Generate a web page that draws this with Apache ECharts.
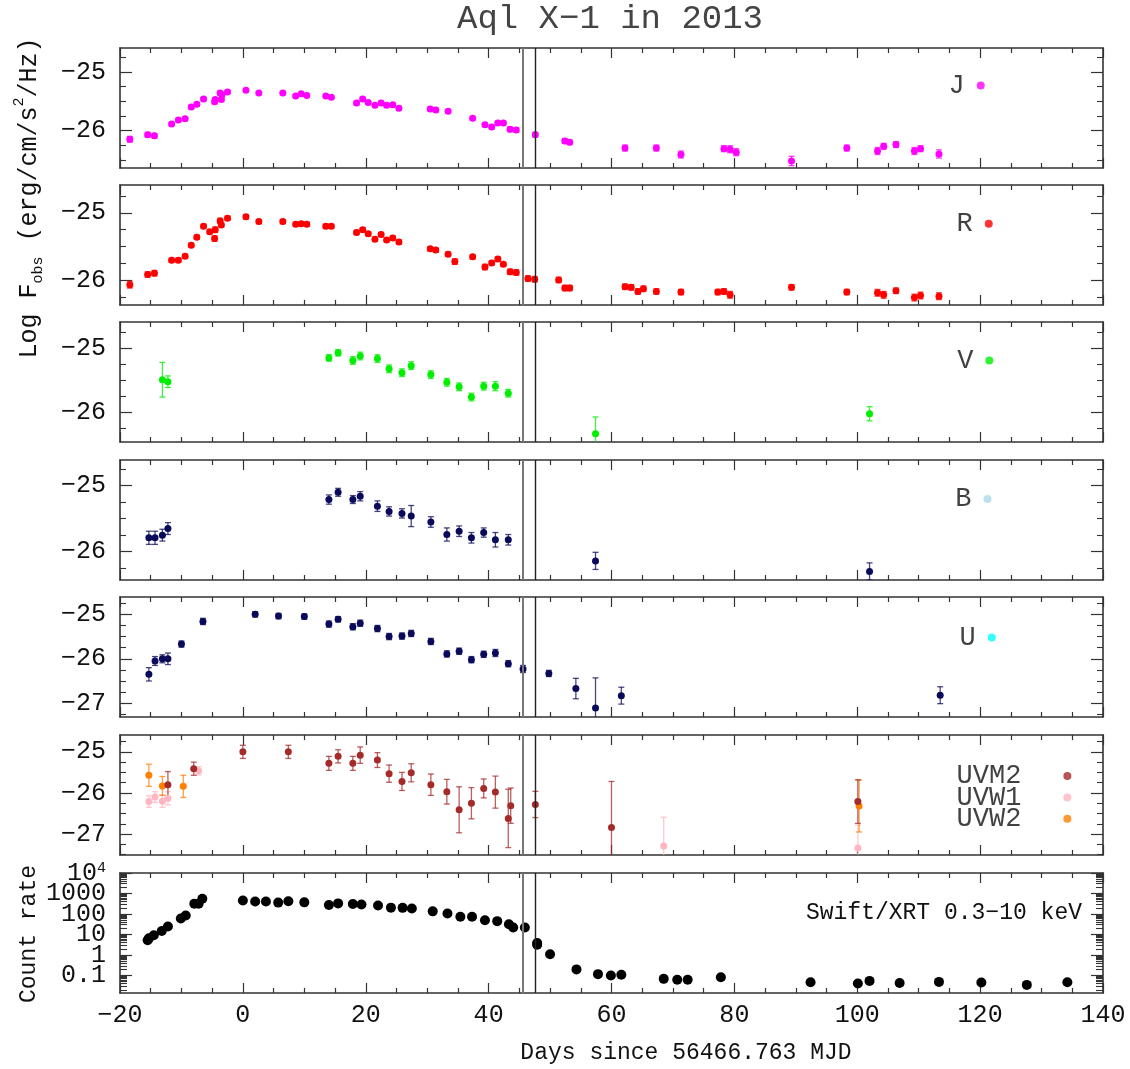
<!DOCTYPE html>
<html><head><meta charset="utf-8">
<script src="https://cdn.jsdelivr.net/npm/echarts@6/dist/echarts.min.js"></script>
<style>html,body{margin:0;padding:0;background:#fff}#c{width:1130px;height:1069px}</style>
</head><body><div id="c"></div><script>
// ---------------- DATA ----------------
const outburstDays = [45.6, 47.6];

const jDay  = [-18.4,-15.5,-14.4,-11.6,-10.5,-9.4,-8.4,-7.5,-6.4,-4.6,-4.5,-3.7,-3.4,-3.5,-2.5,0.5,2.6,6.5,8.6,9.5,10.4,13.5,14.4,18.5,19.5,20.4,21.5,22.5,23.4,24.4,25.4,30.5,31.4,33.4,37.4,39.4,40.5,41.5,42.4,43.5,44.5,47.6,52.4,53.2,62.2,67.3,71.3,78.3,79.3,80.3,89.3,98.3,103.3,104.3,106.3,109.3,110.3,113.3];
const jFlux = [-26.15,-26.07,-26.09,-25.89,-25.82,-25.80,-25.60,-25.55,-25.46,-25.51,-25.47,-25.36,-25.39,-25.47,-25.34,-25.31,-25.36,-25.36,-25.41,-25.37,-25.40,-25.41,-25.43,-25.53,-25.46,-25.52,-25.57,-25.53,-25.57,-25.56,-25.62,-25.63,-25.65,-25.67,-25.79,-25.90,-25.94,-25.87,-25.87,-25.98,-25.99,-26.07,-26.18,-26.20,-26.30,-26.30,-26.41,-26.31,-26.32,-26.37,-26.52,-26.30,-26.35,-26.27,-26.24,-26.35,-26.31,-26.40];
const jErr  = [0.05,0.04,0.04,0.03,0.03,0.03,0.03,0.03,0.03,0.03,0.03,0.03,0.03,0.03,0.03,0.02,0.02,0.02,0.02,0.02,0.02,0.02,0.02,0.03,0.03,0.03,0.03,0.03,0.03,0.03,0.03,0.03,0.03,0.03,0.03,0.03,0.03,0.03,0.03,0.04,0.04,0.04,0.04,0.04,0.05,0.05,0.06,0.05,0.06,0.06,0.08,0.05,0.06,0.05,0.05,0.06,0.05,0.07];

const rDay  = [-18.4,-15.5,-14.4,-11.6,-10.5,-9.4,-8.4,-7.5,-6.4,-5.4,-4.6,-4.5,-3.7,-3.5,-2.5,0.5,2.6,6.5,8.6,9.5,10.4,13.5,14.4,18.5,19.5,20.4,21.5,22.5,23.4,24.4,25.4,30.5,31.4,33.4,34.5,37.4,39.4,40.5,41.5,42.4,43.5,44.5,46.4,47.5,51.4,52.4,53.2,62.2,63.2,64.3,65.2,67.3,71.3,77.3,78.3,79.3,89.3,98.3,103.3,104.3,106.3,109.3,110.3,113.3];
const rFlux = [-26.06,-25.91,-25.89,-25.70,-25.70,-25.64,-25.48,-25.36,-25.20,-25.28,-25.38,-25.25,-25.12,-25.18,-25.08,-25.06,-25.13,-25.13,-25.17,-25.16,-25.17,-25.20,-25.20,-25.29,-25.25,-25.31,-25.39,-25.32,-25.40,-25.37,-25.43,-25.53,-25.55,-25.61,-25.72,-25.65,-25.80,-25.74,-25.68,-25.76,-25.87,-25.88,-25.97,-25.98,-25.99,-26.11,-26.11,-26.09,-26.10,-26.16,-26.12,-26.16,-26.17,-26.17,-26.16,-26.21,-26.10,-26.17,-26.18,-26.21,-26.15,-26.25,-26.22,-26.23];
const rErr  = [0.05,0.04,0.04,0.03,0.03,0.03,0.03,0.03,0.03,0.03,0.04,0.04,0.04,0.03,0.03,0.03,0.03,0.03,0.03,0.03,0.03,0.03,0.03,0.03,0.03,0.03,0.03,0.03,0.03,0.03,0.03,0.03,0.03,0.03,0.04,0.03,0.04,0.03,0.03,0.03,0.04,0.04,0.04,0.04,0.04,0.04,0.04,0.04,0.04,0.04,0.04,0.04,0.04,0.04,0.04,0.05,0.04,0.04,0.05,0.05,0.04,0.05,0.05,0.05];

const vDay  = [-13.1,-12.2,14.0,15.5,17.9,19.1,21.9,23.8,25.9,27.4,30.6,33.2,35.2,37.2,39.2,41.1,43.2,57.4,102.0];
const vFlux = [-25.49,-25.52,-25.15,-25.07,-25.19,-25.12,-25.16,-25.32,-25.38,-25.27,-25.41,-25.53,-25.60,-25.76,-25.59,-25.59,-25.70,-26.33,-26.02];
const vErr  = [0.27,0.09,0.05,0.05,0.06,0.06,0.06,0.06,0.06,0.06,0.06,0.06,0.06,0.06,0.06,0.07,0.06,0.26,0.11];

const bDay  = [-15.3,-14.3,-13.1,-12.2,14.0,15.5,17.9,19.1,21.9,23.8,25.9,27.4,30.6,33.2,35.2,37.2,39.2,41.1,43.2,57.4,102.0];
const bFlux = [-25.79,-25.79,-25.75,-25.65,-25.21,-25.10,-25.21,-25.16,-25.31,-25.39,-25.42,-25.46,-25.55,-25.74,-25.69,-25.79,-25.71,-25.82,-25.82,-26.14,-26.30];
const bErr  = [0.10,0.10,0.09,0.09,0.07,0.06,0.06,0.07,0.08,0.07,0.07,0.16,0.08,0.10,0.08,0.08,0.07,0.11,0.08,0.13,0.13];

const uDay  = [-15.3,-14.3,-13.1,-12.2,-10.0,-6.5,2.0,5.8,10.0,14.0,15.5,17.9,19.1,21.9,23.8,25.9,27.4,30.6,33.2,35.2,37.2,39.2,41.1,43.2,45.6,49.8,54.2,57.4,61.6,113.5];
const uFlux = [-26.35,-26.05,-26.00,-26.00,-25.67,-25.16,-25.00,-25.04,-25.05,-25.22,-25.11,-25.28,-25.20,-25.32,-25.50,-25.49,-25.43,-25.61,-25.89,-25.83,-26.02,-25.90,-25.87,-26.11,-26.23,-26.33,-26.67,-27.11,-26.83,-26.82];
const uErr  = [0.15,0.10,0.09,0.13,0.07,0.07,0.06,0.06,0.06,0.07,0.06,0.07,0.07,0.07,0.07,0.07,0.07,0.07,0.07,0.07,0.07,0.07,0.08,0.07,0.08,0.07,0.23,0.68,0.19,0.19];

const m2Day  = [-12.2,-8.0,0.0,7.4,14.0,15.5,17.9,19.1,21.9,23.8,25.9,27.4,30.6,33.2,35.2,37.2,39.2,41.1,43.2,43.6,47.6,60.0,100.1];
const m2Flux = [-25.80,-25.41,-25.00,-25.00,-25.28,-25.11,-25.28,-25.08,-25.20,-25.53,-25.72,-25.51,-25.80,-25.97,-26.41,-26.25,-25.89,-25.98,-26.62,-26.31,-26.28,-26.84,-26.21];
const m2Err  = [0.32,0.16,0.16,0.16,0.17,0.16,0.17,0.20,0.18,0.21,0.22,0.22,0.26,0.30,0.56,0.38,0.23,0.39,0.71,0.43,0.32,1.12,0.53];

const w1Day  = [-15.3,-14.3,-13.1,-12.2,-7.2,68.5,100.1];
const w1Flux = [-26.21,-26.10,-26.20,-26.13,-25.46,-27.29,-27.34];
const w1Err  = [0.14,0.13,0.15,0.16,0.10,0.70,0.56];

const w2Day  = [-15.3,-13.1,-9.7,100.3];
const w2Flux = [-25.57,-25.83,-25.84,-26.32];
const w2Err  = [0.27,0.23,0.27,0.63];

const xrtDay  = [-15.5,-15.3,-14.5,-13.2,-12.2,-10.1,-9.3,-7.9,-7.2,-6.6,0.0,2.0,3.75,5.75,7.4,10.0,14.0,15.5,17.9,19.3,22.0,24.1,26.0,27.5,30.9,33.3,35.4,37.3,39.4,41.4,43.3,44.0,45.9,47.9,47.9,50.0,54.3,57.8,59.9,61.6,68.5,70.7,72.4,77.8,92.4,100.1,102.0,106.9,113.3,120.2,127.6,134.2];
const xrtRate = [5.3,6.5,9.3,15,24.5,61,85,320,320,550,460,410,410,360,420,370,275,330,310,290,260,205,200,184,135,107,74,74,50,45,32,22,22,3.9,3.2,1.1,0.20,0.117,0.10,0.11,0.069,0.063,0.063,0.083,0.047,0.041,0.055,0.043,0.049,0.046,0.035,0.047];

// band key markers
const bandNames  = ['J','R','V','B','U'];
const bandKeyDay = [120.1,121.4,121.5,121.2,121.9];
const bandKeyFlux= [-25.23,-25.16,-25.19,-25.20,-25.52];
const uvNames    = ['UVM2','UVW1','UVW2'];
const uvKeyDay   = [134.2,134.2,134.2];
const uvKeyFlux  = [-25.59,-26.11,-26.63];

const fluxTickLabels = [-27,-26,-25];
const rateTickLabels = [0.1,1,10,100,1000,10000];
const xTitle = 'Days since 56466.763 MJD';

// ---------------- STYLE / LAYOUT ----------------
const FONT = 'Liberation Mono';
const AX = '#333';
const tops = [48,185,322,460,597,735,873];
const H = 120, LEFT = 120, W = 983;
const yRanges = [[-26.64,-24.59],[-26.36,-24.59],[-26.46,-24.59],[-26.43,-24.61],[-27.31,-24.61],[-27.51,-24.59],[0.0141,10000]];

const C = {J:'#ff00ff',R:'#ff0000',V:'#00ee00',NAVY:'#0a0a5a',M2:'#a52a2a',W1:'#ffb6c1',W2:'#ff7f00'};
const keyColors = ['#ff00ff','#ff0000','#00ee00','#add8e6','#00ffff'];
const uvColors = [C.M2, C.W1, C.W2];

const minus = v => (v < 0 ? '\u2212' : '') + Math.abs(v);
const rateFmt = v => v >= 9999 ? '{b|10}{s|4}' : String(v);
const rateRich = {b:{fontFamily:FONT,fontSize:25,color:'#111',verticalAlign:'bottom'}, s:{fontFamily:FONT,fontSize:15,color:'#111',verticalAlign:'top'}};

function quarterTicks(r){
  const out=[];
  for (let v=Math.ceil(r[0]*4)/4; v<=r[1]+1e-9; v+=0.25){
    const q=Math.round(v*100)/100;
    if (Math.abs(q-Math.round(q))>1e-6) out.push(q);
  }
  return out;
}
function logMinor(r){
  const out=[];
  for (let k=-2;k<=3;k++) for (let m=2;m<=9;m++){ const v=m*Math.pow(10,k); if(v>r[0]&&v<r[1]) out.push(v);}
  return out;
}

const grid=[], xAxis=[], yAxis=[], series=[];
tops.forEach((t,i)=>{
  grid.push({left:LEFT, top:t, width:W, height:H, show:false});
  const last = i===tops.length-1;
  ['bottom','top'].forEach(pos=>{
    xAxis.push({type:'value', gridIndex:i, min:-20, max:140, interval:20, position:pos,
      axisLine:{show:true, onZero:false, lineStyle:{color:AX, width:1.6}},
      axisTick:{show:true, inside:true, length:10, lineStyle:{color:AX, width:1.2}},
      minorTick:{show:true, splitNumber:4, length:5, lineStyle:{color:AX, width:1.2}},
      splitLine:{show:false}, minorSplitLine:{show:false},
      axisLabel:{show: last && pos==='bottom', margin:10, color:'#111', fontFamily:FONT, fontSize:25, formatter:minus}
    });
  });
  const r = yRanges[i];
  const isLog = i===6;
  const majors = isLog ? rateTickLabels : fluxTickLabels.filter(v=>v>r[0]&&v<r[1]);
  const labelsA = isLog ? rateTickLabels.filter((v,k)=>k%2===0) : majors;
  const minors = isLog ? logMinor(r) : quarterTicks(r);
  ['left','right'].forEach(pos=>{
    const base = {type: isLog?'log':'value', logBase:10, gridIndex:i, min:r[0], max:r[1], position:pos, splitLine:{show:false}};
    yAxis.push(Object.assign({}, base, {
      axisLine:{show:true, onZero:false, lineStyle:{color:AX, width:1.6}},
      axisTick:{show:true, inside:true, length:12, customValues:majors, lineStyle:{color:AX, width:1.2}},
      axisLabel:{show: pos==='left', customValues:labelsA, showMinLabel:true, showMaxLabel:true,
        margin:14, color:'#111', fontFamily:FONT, fontSize:25,
        formatter: isLog ? rateFmt : minus, rich: rateRich}
    }));
    yAxis.push(Object.assign({}, base, {
      axisLine:{show:false, onZero:false},
      axisTick:{show:true, inside:true, length: isLog?7:6, customValues:minors, lineStyle:{color:AX, width:1.1}},
      axisLabel:{show:false}
    }));
  });
});
// second label set for the log panel (alternate decades, so labels never collide)
yAxis.push({type:'log', logBase:10, gridIndex:6, min:yRanges[6][0], max:yRanges[6][1], position:'left', splitLine:{show:false},
  axisLine:{show:false, onZero:false}, axisTick:{show:false},
  axisLabel:{show:true, customValues:rateTickLabels.filter((v,k)=>k%2===1), showMinLabel:true, showMaxLabel:true,
    margin:14, color:'#111', fontFamily:FONT, fontSize:25, formatter:rateFmt, rich:rateRich}});

function errSeries(panel, days, flux, err, color, opacity){
  return {type:'custom', xAxisIndex:panel*2, yAxisIndex:panel*4, clip:true, z:3, silent:true,
    data: days.map((d,k)=>[d, flux[k], err[k]]),
    renderItem:(params, api)=>{
      const x=api.value(0), y=api.value(1), e=api.value(2);
      const a=api.coord([x,y+e]), b=api.coord([x,y-e]);
      const w=3, st={stroke:color, lineWidth:1.3, opacity:opacity};
      return {type:'group', children:[
        {type:'line', shape:{x1:a[0],y1:a[1],x2:b[0],y2:b[1]}, style:st},
        {type:'line', shape:{x1:a[0]-w,y1:a[1],x2:a[0]+w,y2:a[1]}, style:st},
        {type:'line', shape:{x1:b[0]-w,y1:b[1],x2:b[0]+w,y2:b[1]}, style:st}
      ]};
    }};
}
function dotSeries(panel, days, vals, color, size){
  return {type:'scatter', xAxisIndex:panel*2, yAxisIndex:panel*4, z:4, silent:true,
    symbol:'circle', symbolSize:size, itemStyle:{color:color, opacity:1},
    data: days.map((d,k)=>[d, vals[k]])};
}
function band(panel, days, flux, err, color){
  series.push(errSeries(panel, days, flux, err, color, 0.75));
  series.push(dotSeries(panel, days, flux, color, 7));
}
band(0, jDay, jFlux, jErr, C.J);
band(1, rDay, rFlux, rErr, C.R);
band(2, vDay, vFlux, vErr, C.V);
band(3, bDay, bFlux, bErr, C.NAVY);
band(4, uDay, uFlux, uErr, C.NAVY);
band(5, w1Day, w1Flux, w1Err, C.W1);
band(5, w2Day, w2Flux, w2Err, C.W2);
band(5, m2Day, m2Flux, m2Err, C.M2);
series.push(dotSeries(6, xrtDay, xrtRate, '#000', 10));

// key markers with labels
bandNames.forEach((n,i)=>{
  series.push({type:'scatter', xAxisIndex:i*2, yAxisIndex:i*4, z:5, silent:true, symbolSize:8,
    itemStyle:{color:keyColors[i]}, data:[{value:[bandKeyDay[i], bandKeyFlux[i]], name:n}],
    label:{show:true, position:'left', distance:12, formatter:'{b}', color:'#111', fontFamily:FONT, fontSize:27}});
});
uvNames.forEach((n,i)=>{
  series.push({type:'scatter', xAxisIndex:10, yAxisIndex:20, z:5, silent:true, symbolSize:8,
    itemStyle:{color:uvColors[i]}, data:[{value:[uvKeyDay[i], uvKeyFlux[i]], name:n}],
    label:{show:true, position:'left', distance:42, formatter:'{b}', color:'#111', fontFamily:FONT, fontSize:27}});
});

// vertical outburst lines in every panel
tops.forEach((t,i)=>{
  series.push({type:'scatter', xAxisIndex:i*2, yAxisIndex:i*4, data:[], z:2, silent:true,
    markLine:{silent:true, symbol:['none','none'], label:{show:false}, animation:false,
      data:[{xAxis:outburstDays[0], lineStyle:{color:'#777', width:2, type:'solid'}},
            {xAxis:outburstDays[1], lineStyle:{color:'#222', width:1.4, type:'solid'}}]}});
});

const graphic = [
  {type:'text', x:610, y:19, style:{text:'Aql X\u22121 in 2013', fontFamily:FONT, fontSize:34, fill:'#444', align:'center', verticalAlign:'middle'}},
  {type:'text', x:686, y:1053, style:{text:xTitle, fontFamily:FONT, fontSize:23, fill:'#111', align:'center', verticalAlign:'middle'}},
  {type:'text', x:1082, y:913, style:{text:'Swift/XRT 0.3\u221210 keV', fontFamily:FONT, fontSize:23, fill:'#111', align:'right', verticalAlign:'middle'}},
  {type:'text', x:29, y:934, rotation:Math.PI/2, style:{text:'Count rate', fontFamily:FONT, fontSize:23, fill:'#111', align:'center', verticalAlign:'middle'}},
  {type:'text', x:29, y:198, rotation:Math.PI/2, style:{text:'{a|Log F}{b|obs}{a| (erg/cm/s}{c|2}{a|/Hz)}', fontFamily:FONT, fontSize:25, fill:'#111', align:'center', verticalAlign:'middle', lineHeight:34,
    rich:{a:{fontFamily:FONT,fontSize:25,fill:'#111',verticalAlign:'middle'}, b:{fontFamily:FONT,fontSize:15,fill:'#111',verticalAlign:'bottom'}, c:{fontFamily:FONT,fontSize:15,fill:'#111',verticalAlign:'top'}}}}
];

const chart = echarts.init(document.getElementById('c'), null, {renderer:'canvas'});
chart.setOption({animation:false, backgroundColor:'#fff', grid, xAxis, yAxis, series, graphic});
</script></body></html>
